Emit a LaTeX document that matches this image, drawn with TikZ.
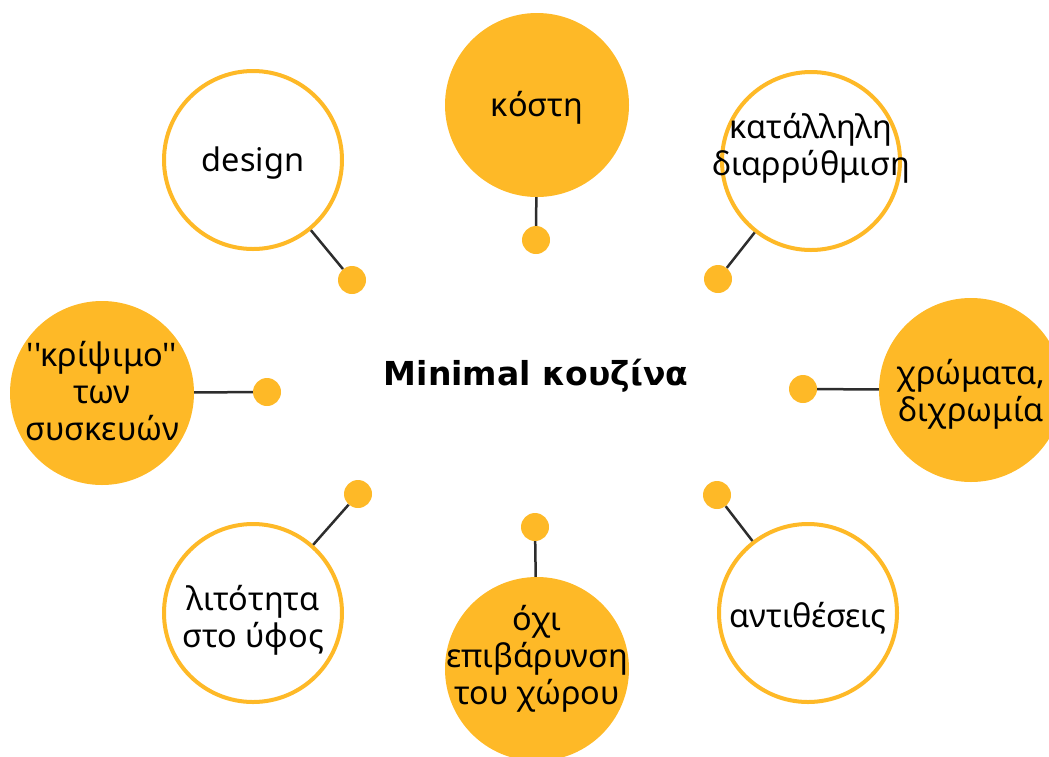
\documentclass[tikz,border=0pt]{standalone}
\usepackage{fontspec}
\setmainfont{Noto Sans}[Ligatures=TeXOff]
\newfontfamily\titlefont{DejaVu Sans}
\definecolor{gold}{RGB}{254,185,39}
\definecolor{linegray}{RGB}{45,45,45}
\tikzset{
  whitec/.style={circle, draw=gold, line width=4pt, fill=white, minimum size=178pt, inner sep=0pt},
  goldc/.style={circle, fill=gold, minimum size=184pt, inner sep=0pt},
  dotc/.style={circle, fill=gold, minimum size=28pt, inner sep=0pt},
  txt/.style={align=center, font=\fontsize{32.5}{37}\selectfont, text=black, inner sep=0pt},
  conn/.style={draw=linegray, line width=2.5pt},
}
\begin{document}
\begin{tikzpicture}[x=1pt,y=-1pt]
\useasboundingbox (0,0) rectangle (1049,756);
\clip (0,0) rectangle (1049,756);
% dots
\node[dotc] (d1) at (352,280) {};
\node[dotc] (d2) at (536,240) {};
\node[dotc] (d3) at (718,279) {};
\node[dotc] (d4) at (267,392) {};
\node[dotc] (d5) at (803,389) {};
\node[dotc] (d6) at (358,494) {};
\node[dotc] (d7) at (535,527) {};
\node[dotc] (d8) at (717,495) {};
% circles
\node[whitec] (c1) at (253,160) {};
\node[goldc]  (c2) at (537,105) {};
\node[whitec] (c3) at (811,161) {};
\node[goldc]  (c4) at (102,393) {};
\node[goldc]  (c5) at (971,390) {};
\node[whitec] (c6) at (253,613) {};
\node[goldc]  (c7) at (537,669) {};
\node[whitec] (c8) at (808,613) {};
% connectors
\draw[conn] (c1) -- (d1);
\draw[conn] (c2) -- (d2);
\draw[conn] (c3) -- (d3);
\draw[conn] (c4) -- (d4);
\draw[conn] (c5) -- (d5);
\draw[conn] (c6) -- (d6);
\draw[conn] (c7) -- (d7);
\draw[conn] (c8) -- (d8);
% texts
\node[txt] (t1) at (253,163) {design};
\node[txt] (t2) at (537,108) {κόστη};
\node[txt] (t3) at (811,148) {κατάλληλη\\διαρρύθμιση};
\node[txt] (t4) at (102,391) {''κρίψιμο''\\των\\συσκευών};
\node[txt] (t5) at (971,394) {χρώματα,\\διχρωμία};
\node[txt] (t6) at (253,620) {λιτότητα\\στο ύφος};
\node[txt] (t7) at (537,659) {όχι\\επιβάρυνση\\του χώρου};
\node[txt] (t8) at (808,618) {αντιθέσεις};
\node[font=\titlefont\bfseries\fontsize{33}{39}\selectfont, inner sep=0pt] (title) at (536,376) {Minimal κουζίνα};
\end{tikzpicture}
\end{document}
